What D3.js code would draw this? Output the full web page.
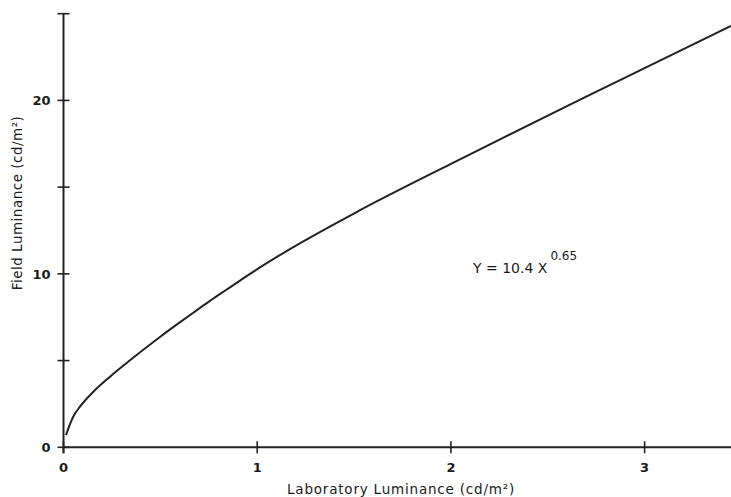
<!DOCTYPE html>
<html>
<head>
<meta charset="utf-8">
<script src="https://cdn.jsdelivr.net/npm/d3@7"></script>
<style>
  html, body { margin: 0; padding: 0; background: #fff; }
  svg { display: block; }
  text { font-family: "DejaVu Sans", Verdana, sans-serif; fill: #1a1a1a; }
</style>
</head>
<body>
<svg id="chart" width="731" height="497"></svg>
<script>
// Field vs. laboratory luminance, fitted curve Y = 10.4 X^0.65
const labLuminance   = [0.013, 0.05, 0.085, 0.154, 0.24, 0.326, 0.412, 0.498, 0.584, 0.67, 0.756, 0.843, 0.928, 1.014, 1.169, 1.531, 2.0, 2.15, 2.667, 3.446];
const fieldLuminance = [0.71, 1.76, 2.34, 3.2, 4.07, 4.86, 5.62, 6.36, 7.07, 7.76, 8.44, 9.1, 9.74, 10.37, 11.43, 13.67, 16.34, 17.18, 20.05, 24.3];

const xTicks = [0, 1, 2, 3];
const yMajorTicks = [0, 10, 20];
const yMinorTicks = [5, 15, 25];

const xTitle = "Laboratory Luminance (cd/m²)";
const yTitle = "Field Luminance (cd/m²)";

const svg = d3.select("#chart");

const x = d3.scaleLinear().domain([0, 3.446]).range([63.5, 731]);
const y = d3.scaleLinear().domain([0, 25]).range([447.3, 13.7]);

const ink = "#222";

// axes lines
svg.append("line")
  .attr("x1", x(0)).attr("x2", 731)
  .attr("y1", y(0)).attr("y2", y(0))
  .attr("stroke", ink).attr("stroke-width", 2);
svg.append("line")
  .attr("x1", x(0)).attr("x2", x(0))
  .attr("y1", y(0) + 6).attr("y2", y(25))
  .attr("stroke", ink).attr("stroke-width", 2);

// x ticks (crossing the axis)
svg.selectAll(".xt").data(xTicks).join("line")
  .attr("x1", d => x(d)).attr("x2", d => x(d))
  .attr("y1", y(0) - 6).attr("y2", y(0) + 6)
  .attr("stroke", ink).attr("stroke-width", 1.6);
svg.selectAll(".xl").data(xTicks).join("text")
  .attr("x", d => x(d)).attr("y", y(0) + 25)
  .attr("text-anchor", "middle")
  .attr("font-size", 13).attr("font-weight", "bold")
  .text(d => d);

// y ticks
svg.selectAll(".yt").data(yMajorTicks.concat(yMinorTicks)).join("line")
  .attr("x1", x(0) - 6).attr("x2", x(0) + 6)
  .attr("y1", d => y(d)).attr("y2", d => y(d))
  .attr("stroke", ink).attr("stroke-width", 1.6);
svg.selectAll(".yl").data(yMajorTicks).join("text")
  .attr("x", x(0) - 13).attr("y", d => y(d) + 5)
  .attr("text-anchor", "end")
  .attr("font-size", 13).attr("font-weight", "bold")
  .text(d => d);

// axis titles
svg.append("text")
  .attr("x", 401).attr("y", 494)
  .attr("text-anchor", "middle")
  .attr("font-size", 13.5).attr("letter-spacing", 0.8)
  .text(xTitle);
svg.append("text")
  .attr("transform", "translate(22,203) rotate(-90)")
  .attr("text-anchor", "middle")
  .attr("font-size", 13.5).attr("letter-spacing", 0.5)
  .text(yTitle);

// fitted curve
const pts = labLuminance.map((v, i) => [v, fieldLuminance[i]]);
const line = d3.line().x(d => x(d[0])).y(d => y(d[1])).curve(d3.curveMonotoneX);
svg.append("path")
  .attr("d", line(pts))
  .attr("fill", "none")
  .attr("stroke", ink)
  .attr("stroke-width", 2);

// equation label
const eq = svg.append("text")
  .attr("x", 473).attr("y", 273)
  .attr("font-size", 14);
eq.append("tspan").text("Y = 10.4 X");
eq.append("tspan").attr("dx", 3).attr("dy", -13).attr("font-size", 12).text("0.65");
</script>
</body>
</html>
